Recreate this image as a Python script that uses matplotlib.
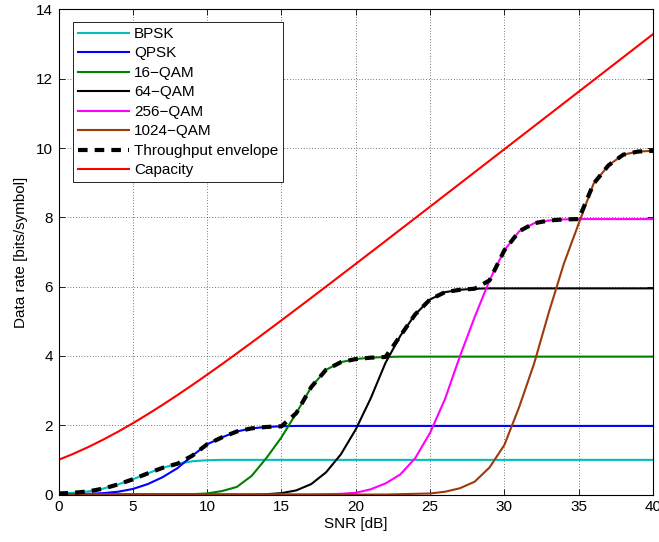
import numpy as np
import matplotlib
matplotlib.use("Agg")
import matplotlib.pyplot as plt

plt.rcParams['font.family'] = ['Liberation Sans', 'DejaVu Sans']
plt.rcParams['font.size'] = 11

# SNR grid [dB]
snr_db = np.arange(0, 41)

# throughput per modulation [bits/symbol]
bpsk = [0.03, 0.05, 0.09, 0.17, 0.29, 0.44, 0.61, 0.77, 0.89, 0.96,
        0.99] + [1.0] * 30
qpsk = [0.0, 0.01, 0.02, 0.04, 0.08, 0.16, 0.30, 0.50, 0.76, 1.12,
        1.45, 1.65, 1.82, 1.91, 1.95, 1.97] + [1.98] * 25
qam16 = [0.0] * 9 + [0.01, 0.03, 0.10, 0.22, 0.54, 1.06, 1.65, 2.35,
                     3.10, 3.60, 3.82, 3.91, 3.95, 3.97] + [3.98] * 18
qam64 = [0.0] * 14 + [0.01, 0.04, 0.12, 0.30, 0.64, 1.16, 1.88, 2.77,
                      3.80, 4.58, 5.20, 5.63, 5.84, 5.91, 5.94] + [5.95] * 12
qam256 = [0.0] * 18 + [0.01, 0.02, 0.05, 0.15, 0.32, 0.58, 1.05, 1.78,
                       2.75, 3.98, 5.12, 6.18, 7.05, 7.60, 7.83, 7.91,
                       7.94] + [7.95] * 6
qam1024 = [0.0] * 23 + [0.01, 0.02, 0.03, 0.08, 0.18, 0.37, 0.78, 1.43,
                        2.53, 3.78, 5.27, 6.66, 7.82, 8.97, 9.50, 9.81,
                        9.90, 9.92]

# best modulation at each SNR
envelope = [0.03, 0.05, 0.09, 0.17, 0.29, 0.44, 0.61, 0.77, 0.89, 1.12,
            1.45, 1.65, 1.82, 1.91, 1.95, 1.97, 2.35, 3.10, 3.60, 3.82,
            3.91, 3.95, 3.97, 4.58, 5.20, 5.63, 5.84, 5.91, 5.94, 6.18,
            7.05, 7.60, 7.83, 7.91, 7.94, 7.95, 8.97, 9.50, 9.81, 9.90,
            9.92]

# Shannon capacity
capacity = [1.000, 1.176, 1.370, 1.583, 1.812, 2.057, 2.317, 2.588, 2.870,
            3.161, 3.459, 3.764, 4.075, 4.389, 4.707, 5.028, 5.351, 5.676,
            6.002, 6.330, 6.658, 6.988, 7.317, 7.648, 7.979, 8.309, 8.641,
            8.972, 9.304, 9.635, 9.967, 10.299, 10.631, 10.963, 11.295,
            11.627, 11.959, 12.291, 12.623, 12.955, 13.288]

fig = plt.figure(figsize=(6.59, 5.42), dpi=100)
ax = fig.add_axes([0.0888, 0.0876, 0.9021, 0.8949])

ax.plot(snr_db, bpsk, color='#00bfbf', lw=1.5, label='BPSK')
ax.plot(snr_db, qpsk, color='#0000ff', lw=1.5, label='QPSK')
ax.plot(snr_db, qam16, color='#008000', lw=1.5, label='16\u2212QAM')
ax.plot(snr_db, qam64, color='black', lw=1.5, label='64\u2212QAM')
ax.plot(snr_db, qam256, color='#ff00ff', lw=1.5, label='256\u2212QAM')
ax.plot(snr_db, qam1024, color='#9c3a0c', lw=1.5, label='1024\u2212QAM')
ax.plot(snr_db, envelope, color='black', lw=3, dashes=(2.3, 1.7),
        dash_capstyle='butt', label='Throughput envelope')
ax.plot(snr_db, capacity, color='#ff0000', lw=1.5, label='Capacity')

ax.set_xlim(0, 40)
ax.set_ylim(0, 14)
ax.set_xticks(np.arange(0, 41, 5))
ax.set_yticks(np.arange(0, 15, 2))
ax.set_xlabel('SNR [dB]', labelpad=2)
ax.set_ylabel('Data rate [bits/symbol]', labelpad=6)

ax.grid(True, color='black', linestyle=(0, (1, 3)), linewidth=0.5)
ax.tick_params(direction='in', top=True, right=True, length=4, width=0.6,
               pad=4)
for s in ax.spines.values():
    s.set_linewidth(0.8)

leg = ax.legend(loc='upper left', fancybox=False, framealpha=1,
                edgecolor='black', handlelength=3.3, handletextpad=0.35,
                labelspacing=0.36, borderpad=0.32,
                bbox_to_anchor=(0.012, 0.99))
leg.get_frame().set_linewidth(0.6)

fig.savefig('out.png', dpi=100)
